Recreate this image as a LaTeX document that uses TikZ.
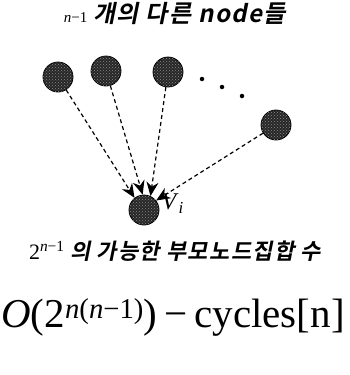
\documentclass[tikz,border=0pt]{standalone}
\usepackage{fontspec}
\setmainfont{Liberation Serif}
\newfontfamily\kor[UprightFont={* Bold}, FakeSlant=0.2, LetterSpace=6]{Noto Sans CJK KR}
\usetikzlibrary{arrows.meta, patterns}

\begin{document}
\begin{tikzpicture}[
        x=1pt, y=-1pt,
        >={Stealth[length=14pt,width=12pt]},
        vertex/.style={
            circle,
            draw=black,
            thick,
            fill=black!85,
            postaction={pattern=crosshatch dots, pattern color=black!45},
            minimum size=30pt,
            inner sep=0pt
        },
        dot/.style={circle, fill=black, minimum size=4.5pt, inner sep=0pt},
        title/.style={font=\fontsize{22}{26}\selectfont, inner sep=0pt},
        arrow/.style={->, line width=1.2pt, dash pattern=on 4pt off 3pt, draw=black}
    ]

    \useasboundingbox (0,0) rectangle (350,375);

    \node[title, font=\fontsize{24}{28}\selectfont] (top) at (175, 14)
        {{\fontsize{15}{17}\selectfont\textit{n}−1} {\kor 개의 다른 node들}};

    \node[vertex] (c1) at (58, 77)   {};
    \node[vertex] (c2) at (106, 71)  {};
    \node[vertex] (c3) at (168, 72)  {};
    \node[vertex] (c4) at (276, 125) {};
    \node[vertex] (vi) at (144, 210) {};

    \node[dot] (d1) at (202, 79) {};
    \node[dot] (d2) at (222, 87) {};
    \node[dot] (d3) at (242, 96) {};

    \node[font=\fontsize{24}{26}\selectfont, anchor=west] (lbl) at (158, 204) {\textit{V}\textsubscript{\textit{i}}};

    \draw[arrow] (c1) -- (vi.128);
    \draw[arrow] (c2) -- (vi.95);
    \draw[arrow] (c3) -- (vi.65);
    \draw[arrow] (c4) -- (vi.38);

    \node[title] (sets) at (175, 251)
        {2\textsuperscript{\textit{n}−1} {\kor 의 가능한 부모노드집합 수}};

    \node[font=\fontsize{41}{46}\selectfont, inner sep=0pt] (cost) at (173, 317)
        {\textit{O}(2\textsuperscript{\textit{n}(\textit{n}−1)})\,−\,cycles[n]};

\end{tikzpicture}
\end{document}
